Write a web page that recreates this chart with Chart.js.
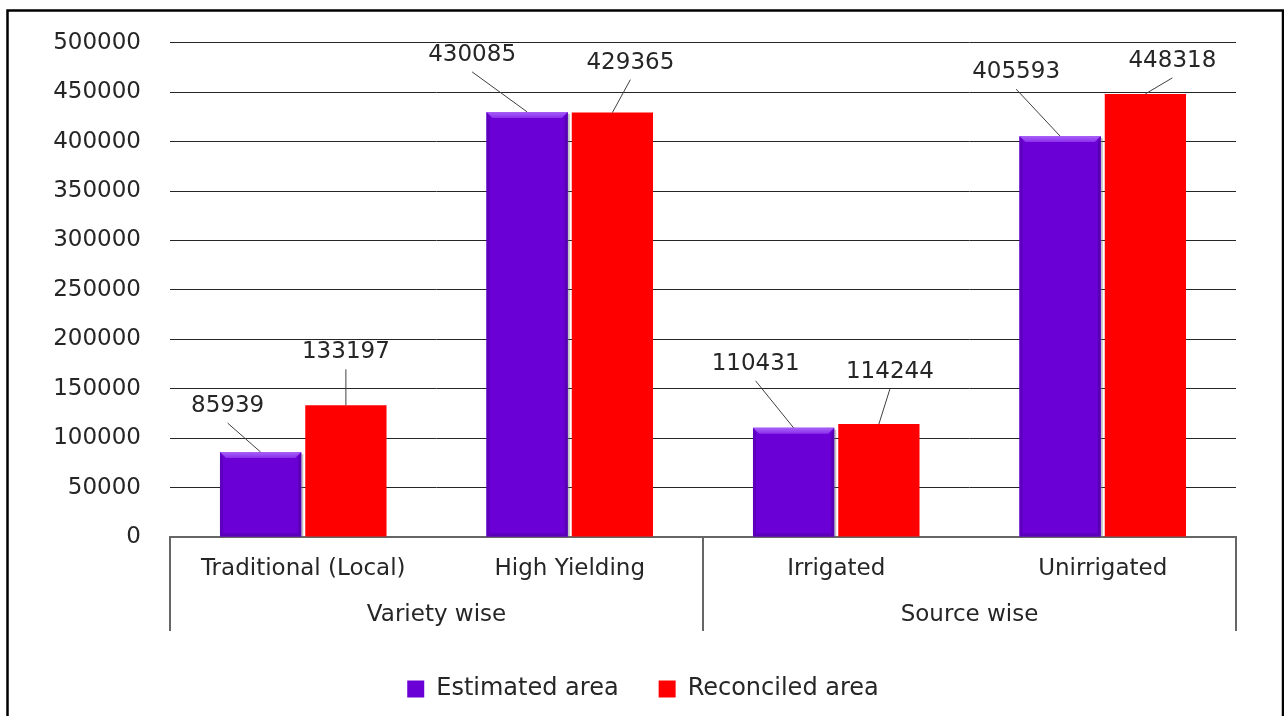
<!DOCTYPE html>
<html>
<head>
<meta charset="utf-8">
<script src="https://cdn.jsdelivr.net/npm/chart.js@4"></script>
<style>
  body { margin: 0; background: #fff; }
  #wrap { width: 1284px; height: 716px; }
</style>
</head>
<body>
<div id="wrap"><canvas id="myChart" width="1284" height="716"></canvas></div>
<script>
// data
const categories = ["Traditional (Local)", "High Yielding", "Irrigated", "Unirrigated"];
const groups = ["Variety wise", "Source wise"];
const groupSizes = [2, 2];
const estimatedArea = [85939, 430085, 110431, 405593];
const reconciledArea = [133197, 429365, 114244, 448318];
const yTicks = [0, 50000, 100000, 150000, 200000, 250000, 300000, 350000, 400000, 450000, 500000];

// where each value label sits, relative to the top of its bar (px)
const labelOffsets = [
  [[-33, -46], [-55, -57], [-38, -64], [-44, -64]],
  [[0, -53], [18, -50], [11, -52], [27, -33]],
];

const FONT = "'DejaVu Sans', Verdana, sans-serif";
const FSIZE = 23;
const textColor = "#262626";
const purple = "#6a00d5";
const red = "#ff0000";

// white background + outer frame
const framePlugin = {
  id: "frame",
  beforeDraw: (chart) => {
    const ctx = chart.ctx;
    ctx.save();
    ctx.fillStyle = "#fff";
    ctx.fillRect(0, 0, chart.width, chart.height);
    ctx.strokeStyle = "#000";
    ctx.lineWidth = 2.5;
    ctx.strokeRect(7.5, 10.5, 1275.5, 720);
    ctx.restore();
  },
};

// bevel look on the purple bars
const bevelPlugin = {
  id: "bevel",
  afterDatasetsDraw: (chart) => {
    const ctx = chart.ctx;
    const meta = chart.getDatasetMeta(0);
    ctx.save();
    meta.data.forEach((bar) => {
      const l = bar.x - bar.width / 2;
      const r = bar.x + bar.width / 2;
      const t = bar.y;
      const b = bar.base;
      const d = 6;
      // shadow on right
      ctx.fillStyle = "rgba(120,120,120,0.45)";
      ctx.fillRect(r, t + 2, 2, b - t - 2);
      // left side
      ctx.fillStyle = "#5c00bd";
      ctx.beginPath();
      ctx.moveTo(l, t); ctx.lineTo(l + d / 2, t + d); ctx.lineTo(l + d / 2, b - d / 2); ctx.lineTo(l, b);
      ctx.closePath(); ctx.fill();
      // right side
      ctx.fillStyle = "#5800b4";
      ctx.beginPath();
      ctx.moveTo(r, t); ctx.lineTo(r - d / 2, t + d); ctx.lineTo(r - d / 2, b - d / 2); ctx.lineTo(r, b);
      ctx.closePath(); ctx.fill();
      // bottom
      ctx.fillStyle = "#5a00b8";
      ctx.beginPath();
      ctx.moveTo(l, b); ctx.lineTo(l + d / 2, b - d / 2); ctx.lineTo(r - d / 2, b - d / 2); ctx.lineTo(r, b);
      ctx.closePath(); ctx.fill();
      // top
      const g = ctx.createLinearGradient(0, t, 0, t + d);
      g.addColorStop(0, "#a860f8");
      g.addColorStop(1, "#8a30ec");
      ctx.fillStyle = g;
      ctx.beginPath();
      ctx.moveTo(l, t); ctx.lineTo(r, t); ctx.lineTo(r - d, t + d); ctx.lineTo(l + d, t + d);
      ctx.closePath(); ctx.fill();
    });
    ctx.restore();
  },
};

// value labels with leader lines
const labelPlugin = {
  id: "valueLabels",
  afterDatasetsDraw: (chart) => {
    const ctx = chart.ctx;
    ctx.save();
    ctx.font = FSIZE + "px " + FONT;
    ctx.textAlign = "center";
    ctx.textBaseline = "middle";
    chart.data.datasets.forEach((ds, i) => {
      chart.getDatasetMeta(i).data.forEach((bar, j) => {
        const off = labelOffsets[i][j];
        const lx = bar.x + off[0];
        const ly = bar.y + off[1];
        ctx.strokeStyle = "#404040";
        ctx.lineWidth = 1;
        ctx.beginPath();
        ctx.moveTo(lx, ly + 17);
        ctx.lineTo(bar.x, bar.y);
        ctx.stroke();
        ctx.fillStyle = textColor;
        ctx.fillText(String(ds.data[j]), lx, ly);
      });
    });
    ctx.restore();
  },
};

// group labels and separators under the category axis
const groupPlugin = {
  id: "groupAxis",
  afterDraw: (chart) => {
    const ctx = chart.ctx;
    const x = chart.scales.x;
    const area = chart.chartArea;
    const step = (area.right - area.left) / categories.length;
    ctx.save();
    ctx.strokeStyle = "#666";
    ctx.lineWidth = 2;
    let start = 0;
    const edges = [area.left];
    groups.forEach((name, k) => {
      const end = start + groupSizes[k];
      const x0 = x.getPixelForValue(start) - step / 2;
      const x1 = x.getPixelForValue(end - 1) + step / 2;
      edges.push(x1);
      ctx.fillStyle = textColor;
      ctx.font = FSIZE + "px " + FONT;
      ctx.textAlign = "center";
      ctx.textBaseline = "middle";
      ctx.fillText(name, (x0 + x1) / 2, area.bottom + 78);
      start = end;
    });
    edges.forEach((ex) => {
      ctx.beginPath();
      ctx.moveTo(ex, area.bottom);
      ctx.lineTo(ex, area.bottom + 94);
      ctx.stroke();
    });
    ctx.restore();
  },
};

const ctx = document.getElementById("myChart").getContext("2d");
const myChart = new Chart(ctx, {
  type: "bar",
  data: {
    labels: categories,
    datasets: [
      {
        label: "Estimated area",
        data: estimatedArea,
        backgroundColor: purple,
        borderWidth: 0,
        categoryPercentage: 0.64,
        barPercentage: 0.953,
      },
      {
        label: "Reconciled area",
        data: reconciledArea,
        backgroundColor: red,
        borderWidth: 0,
        categoryPercentage: 0.64,
        barPercentage: 0.953,
      },
    ],
  },
  options: {
    responsive: false,
    animation: false,
    layout: {
      padding: { top: 40, right: 48, bottom: 5, left: 50 },
    },
    plugins: {
      legend: {
        position: "bottom",
        labels: {
          font: { family: FONT, size: 24 },
          color: textColor,
          boxWidth: 17,
          boxHeight: 17,
          padding: 40,
        },
      },
      tooltip: { enabled: false },
    },
    scales: {
      x: {
        grid: { display: false, drawTicks: false },
        border: { display: true, color: "#666", width: 2 },
        ticks: {
          font: { family: FONT, size: FSIZE },
          color: textColor,
          padding: 18,
          maxRotation: 0,
        },
        afterFit: (scale) => {
          scale.height = 100;
        },
      },
      y: {
        min: 0,
        max: 500000,
        grid: { color: "#262626", lineWidth: 1, drawTicks: false },
        border: { display: false },
        afterBuildTicks: (scale) => {
          scale.ticks = yTicks.map((v) => ({ value: v }));
        },
        ticks: {
          font: { family: FONT, size: FSIZE },
          color: textColor,
          padding: 29,
          callback: (v) => String(v),
        },
        afterFit: (scale) => {
          scale.width = 120;
        },
      },
    },
  },
  plugins: [framePlugin, bevelPlugin, labelPlugin, groupPlugin],
});
</script>
</body>
</html>
